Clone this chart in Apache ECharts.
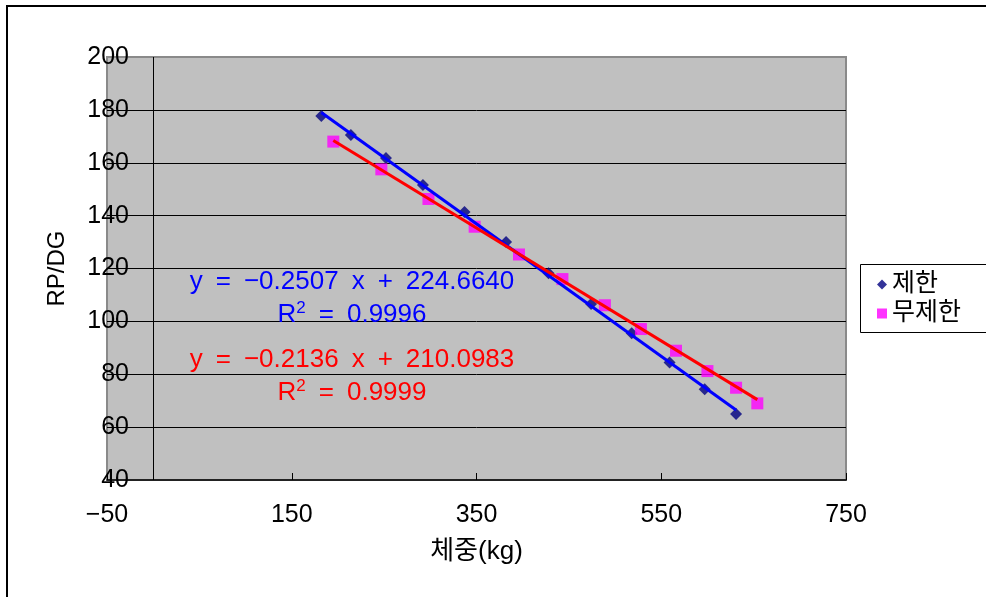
<!DOCTYPE html>
<html>
<head>
<meta charset="utf-8">
<script src="https://cdn.jsdelivr.net/npm/echarts@6/dist/echarts.min.js"></script>
<style>
  html, body { margin: 0; padding: 0; background: #fff; }
  #main { width: 986px; height: 597px; }
</style>
</head>
<body>
<div id="main"></div>
<script>
// 제한 (diamonds)
const limitX = [182, 214, 252, 292, 337, 382, 428, 474, 518, 559, 597, 631];
const limitY = [177.7, 170.5, 161.8, 151.6, 141.4, 130.0, 118.2, 106.6, 95.5, 84.4, 74.3, 65.0];
// 무제한 (squares)
const freeX = [195, 247, 298, 348, 396, 443, 489, 528, 566, 600, 631, 654];
const freeY = [168.0, 157.5, 146.3, 135.8, 125.3, 116.0, 106.1, 97.1, 88.9, 81.2, 74.9, 69.0];
// trend line end points
const limitTrend = [[182, 179.0], [631, 66.5]];
const freeTrend = [[195, 168.4], [654, 70.4]];

const xTicks = { min: -50, max: 750, interval: 200 };
const yTicks = { min: 40, max: 200, interval: 20 };

const FONT = "'Liberation Sans', 'Noto Sans CJK KR', sans-serif";
const SP = "\u2002"; // wider gap, like the Excel text box

function pairs(xs, ys) {
  return xs.map((x, i) => [x, ys[i]]);
}

function eqText(parts, y, color) {
  return {
    type: "text",
    x: 352,
    y: y,
    z: 100,
    style: {
      text: parts.join(SP),
      align: "center",
      verticalAlign: "middle",
      fill: color,
      font: "26px " + FONT,
    },
  };
}

function r2Text(value, y, color) {
  return {
    type: "text",
    x: 352,
    y: y,
    z: 100,
    style: {
      text: "{r|R}{s|2}{r|" + SP + "=" + SP + value + "}",
      align: "center",
      verticalAlign: "middle",
      rich: {
        r: { fontSize: 26, fontFamily: FONT, fill: color, lineHeight: 30 },
        s: { fontSize: 17, fontFamily: FONT, fill: color, lineHeight: 30, verticalAlign: "top" },
      },
    },
  };
}

const myChart = echarts.init(document.getElementById("main"));

let option = {
  animation: false,
  backgroundColor: "#fff",
  textStyle: { fontFamily: FONT },
  grid: {
    left: 107,
    right: 140,
    top: 57,
    bottom: 117,
    show: true,
    backgroundColor: "#C0C0C0",
    borderColor: "#8a8a8a",
    borderWidth: 2,
  },
  legend: {
    orient: "vertical",
    left: 860,
    top: 264,
    padding: [8, 5, 8, 17],
    itemGap: 4,
    itemWidth: 10,
    itemHeight: 10,
    textStyle: { fontSize: 25, color: "#000", fontFamily: FONT, lineHeight: 24 },
    data: [
      { name: "제한", icon: "diamond" },
      { name: "무제한", icon: "rect" },
    ],
  },
  xAxis: {
    type: "value",
    min: xTicks.min,
    max: xTicks.max,
    interval: xTicks.interval,
    name: "체중(kg)",
    nameLocation: "middle",
    nameGap: 59,
    nameTextStyle: { fontSize: 26, color: "#000", fontFamily: FONT },
    axisLine: { onZero: false, lineStyle: { color: "#000", width: 1.5 } },
    axisTick: { inside: true, length: 7, lineStyle: { color: "#000" } },
    axisLabel: {
      fontSize: 25,
      color: "#000",
      margin: 23,
      fontFamily: FONT,
      formatter: (v) => String(v).replace("-", "\u2212"),
    },
    splitLine: { show: false },
  },
  yAxis: {
    type: "value",
    min: yTicks.min,
    max: yTicks.max,
    interval: yTicks.interval,
    name: "RP/DG",
    nameLocation: "middle",
    nameGap: 38,
    nameRotate: 90,
    nameTextStyle: { fontSize: 24, color: "#000", fontFamily: FONT },
    axisLine: { show: false, onZero: false },
    axisTick: { show: false },
    axisLabel: { fontSize: 25, color: "#000", margin: -22, fontFamily: FONT },
    splitLine: {
      show: true,
      showMinLine: false,
      showMaxLine: false,
      lineStyle: { color: "#000", width: 1 },
    },
  },
  series: [
    {
      name: "제한",
      type: "scatter",
      symbol: "diamond",
      symbolSize: 12,
      itemStyle: { color: "#000080" },
      data: pairs(limitX, limitY),
      z: 3,
      markLine: {
        silent: true,
        symbol: ["none", "none"],
        label: { show: false },
        lineStyle: { color: "#000", width: 1, type: "solid" },
        data: [{ xAxis: 0 }],
      },
    },
    {
      name: "무제한",
      type: "scatter",
      symbol: "rect",
      symbolSize: 12,
      itemStyle: { color: "#FF00FF" },
      data: pairs(freeX, freeY),
      z: 3,
    },
    {
      name: "제한 추세",
      type: "line",
      symbol: "none",
      lineStyle: { color: "#0000FF", width: 3 },
      data: limitTrend,
      z: 5,
    },
    {
      name: "무제한 추세",
      type: "line",
      symbol: "none",
      lineStyle: { color: "#FF0000", width: 3 },
      data: freeTrend,
      z: 6,
    },
  ],
  graphic: [
    {
      type: "rect",
      shape: { x: 7, y: 6, width: 1100, height: 1100 },
      style: { fill: "none", stroke: "#000", lineWidth: 2 },
      silent: true,
    },
    // legend frame, runs off the right edge like the original
    {
      type: "rect",
      z: -1,
      shape: { x: 860.5, y: 264.5, width: 200, height: 68 },
      style: { fill: "#fff", stroke: "#000", lineWidth: 1 },
      silent: true,
    },
    eqText(["y", "=", "\u22120.2507", "x", "+", "224.6640"], 282, "#0000FF"),
    r2Text("0.9996", 315, "#0000FF"),
    eqText(["y", "=", "\u22120.2136", "x", "+", "210.0983"], 360, "#FF0000"),
    r2Text("0.9999", 393, "#FF0000"),
  ],
};

option && myChart.setOption(option);

window.addEventListener("resize", function () {
  myChart.resize();
});
</script>
</body>
</html>
